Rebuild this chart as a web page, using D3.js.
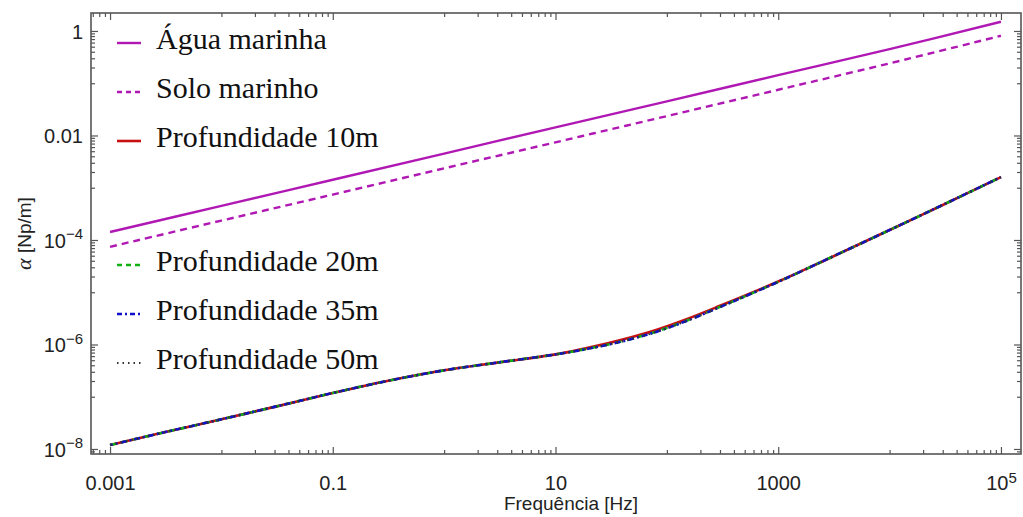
<!DOCTYPE html>
<html>
<head>
<meta charset="utf-8">
<script src="https://cdn.jsdelivr.net/npm/d3@7"></script>
<style>
  body { margin: 0; background: #ffffff; }
  svg { display: block; }
</style>
</head>
<body>
<svg id="chart" width="1023" height="517"></svg>
<script>
// Attenuation in sea water and sea bed (frequency in Hz, alpha in Np/m)
const freqMedium = [1e-3, 1e-2, 1e-1, 1, 10, 100, 1000, 1e4, 1e5];
const aguaMarinha = [1.42e-4, 4.5e-4, 1.42e-3, 4.5e-3, 1.43e-2, 4.5e-2, 0.143, 0.45, 1.5];
const soloMarinho = [7.4e-5, 2.35e-4, 7.4e-4, 2.35e-3, 7.4e-3, 2.35e-2, 7.5e-2, 0.24, 0.81];

// Attenuation at different depths
const freqDepth = [1e-3, 3e-3, 1e-2, 3e-2, 0.1, 0.3, 1, 3, 10, 20, 40, 80, 150, 300, 1000, 3000, 1e4, 3e4, 1e5];
const depth10 = [1.19e-8, 2.06e-8, 3.7e-8, 6.4e-8, 1.18e-7, 1.98e-7, 3.2e-7, 4.5e-7, 6.46e-7, 8.7e-7, 1.245e-6, 1.9e-6, 3.05e-6, 5.5e-6, 1.6e-5, 4.68e-5, 1.55e-4, 4.68e-4, 1.6e-3];
const depth20 = [1.19e-8, 2.06e-8, 3.7e-8, 6.4e-8, 1.18e-7, 1.98e-7, 3.2e-7, 4.5e-7, 6.46e-7, 8.4e-7, 1.16e-6, 1.76e-6, 2.85e-6, 5.25e-6, 1.58e-5, 4.68e-5, 1.55e-4, 4.68e-4, 1.6e-3];
const depth35 = [1.19e-8, 2.06e-8, 3.7e-8, 6.4e-8, 1.18e-7, 1.98e-7, 3.2e-7, 4.5e-7, 6.46e-7, 8.35e-7, 1.15e-6, 1.74e-6, 2.82e-6, 5.2e-6, 1.58e-5, 4.68e-5, 1.55e-4, 4.68e-4, 1.6e-3];
const depth50 = [1.19e-8, 2.06e-8, 3.7e-8, 6.4e-8, 1.18e-7, 1.98e-7, 3.2e-7, 4.5e-7, 6.46e-7, 8.35e-7, 1.15e-6, 1.74e-6, 2.82e-6, 5.2e-6, 1.58e-5, 4.68e-5, 1.55e-4, 4.68e-4, 1.6e-3];

// Labelled ticks
const xTickValues = [1e-3, 1e-1, 1e1, 1e3, 1e5];
const xTickLabels = [["0.001"], ["0.1"], ["10"], ["1000"], ["10", "5"]];
const yTickValues = [1, 1e-2, 1e-4, 1e-6, 1e-8];
const yTickLabels = [["1"], ["0.01"], ["10", "\u22124"], ["10", "\u22126"], ["10", "\u22128"]];

const legendNames = ["\u00c1gua marinha", "Solo marinho", "Profundidade 10m", "Profundidade 20m", "Profundidade 35m", "Profundidade 50m"];

const colors = {
  magenta: "#b018b4",
  red: "#c81010",
  green: "#10b010",
  blue: "#1010c8",
  black: "#333333"
};

const plot = { left: 91, right: 1021, top: 13, bottom: 454 };

const svg = d3.select("#chart");

const x = d3.scaleLog()
  .domain([Math.pow(10, -3.171), Math.pow(10, 5.18)])
  .range([plot.left, plot.right]);
const y = d3.scaleLog()
  .domain([Math.pow(10, -8.096), Math.pow(10, 0.344)])
  .range([plot.bottom, plot.top]);

// minor ticks: 1..9 times the decade below each labelled tick
function minorTicks(majors) {
  const out = [];
  majors.forEach(m => {
    for (let k = 1; k <= 9; k++) out.push(m / 10 * k);
  });
  return out;
}
const xMinor = minorTicks(xTickValues).filter(v => v > x.domain()[0]);
const yMinor = minorTicks(yTickValues).filter(v => v > y.domain()[0]);

const frameColor = "#555555";
const tickFont = "'Liberation Sans', Arial, sans-serif";

function styleAxis(g) {
  g.select(".domain").remove();
  g.selectAll(".tick line").attr("stroke", frameColor).attr("stroke-width", 1.2);
}

// bottom axis (labels + major ticks)
const gxB = svg.append("g").attr("transform", `translate(0,${plot.bottom})`)
  .call(d3.axisBottom(x).tickValues(xTickValues).tickSize(-7).tickPadding(14).tickFormat(() => ""));
styleAxis(gxB);
gxB.selectAll(".tick text").each(function(d, i) {
  const t = d3.select(this).attr("font-family", tickFont).attr("font-size", 20).attr("fill", "#222")
    .attr("y", 22).attr("dy", "0.71em");
  const lab = xTickLabels[i];
  t.append("tspan").text(lab[0]);
  if (lab[1]) t.append("tspan").attr("dy", "-0.5em").attr("font-size", 15).text(lab[1]);
});
svg.append("g").attr("transform", `translate(0,${plot.bottom})`)
  .call(d3.axisBottom(x).tickValues(xMinor).tickSize(-4).tickFormat(() => "")).call(styleAxis);

// top axis mirrored ticks
svg.append("g").attr("transform", `translate(0,${plot.top})`)
  .call(d3.axisTop(x).tickValues(xTickValues).tickSize(-7).tickFormat(() => "")).call(styleAxis);
svg.append("g").attr("transform", `translate(0,${plot.top})`)
  .call(d3.axisTop(x).tickValues(xMinor).tickSize(-4).tickFormat(() => "")).call(styleAxis);

// left axis (labels + major ticks)
const gyL = svg.append("g").attr("transform", `translate(${plot.left},0)`)
  .call(d3.axisLeft(y).tickValues(yTickValues).tickSize(-7).tickPadding(9).tickFormat(() => ""));
styleAxis(gyL);
gyL.selectAll(".tick text").each(function(d, i) {
  const t = d3.select(this).attr("font-family", tickFont).attr("font-size", 20).attr("fill", "#222")
    .attr("x", -8).attr("dy", "0.36em");
  const lab = yTickLabels[i];
  t.append("tspan").text(lab[0]);
  if (lab[1]) t.append("tspan").attr("dy", "-0.55em").attr("font-size", 15).text(lab[1]);
});
svg.append("g").attr("transform", `translate(${plot.left},0)`)
  .call(d3.axisLeft(y).tickValues(yMinor).tickSize(-4).tickFormat(() => "")).call(styleAxis);

// right axis mirrored ticks
svg.append("g").attr("transform", `translate(${plot.right},0)`)
  .call(d3.axisRight(y).tickValues(yTickValues).tickSize(-7).tickFormat(() => "")).call(styleAxis);
svg.append("g").attr("transform", `translate(${plot.right},0)`)
  .call(d3.axisRight(y).tickValues(yMinor).tickSize(-4).tickFormat(() => "")).call(styleAxis);

// frame
svg.append("rect")
  .attr("x", plot.left).attr("y", plot.top)
  .attr("width", plot.right - plot.left).attr("height", plot.bottom - plot.top)
  .attr("fill", "none").attr("stroke", frameColor).attr("stroke-width", 1.6);

// axis titles
svg.append("text")
  .attr("x", 571).attr("y", 510)
  .attr("text-anchor", "middle")
  .attr("font-family", tickFont).attr("font-size", 19).attr("fill", "#222")
  .text("Frequ\u00eancia [Hz]");

const yTitle = svg.append("text")
  .attr("transform", `translate(31,${(plot.top + plot.bottom) / 2}) rotate(-90)`)
  .attr("text-anchor", "middle")
  .attr("font-family", tickFont).attr("font-size", 19).attr("fill", "#222");
yTitle.append("tspan").attr("font-family", "'Liberation Serif', 'Times New Roman', serif")
  .attr("font-style", "italic").attr("font-size", 22).text("\u03b1");
yTitle.append("tspan").text(" [Np/m]");

// curves
const line = d3.line()
  .x(d => x(d[0]))
  .y(d => y(d[1]))
  .curve(d3.curveCatmullRom.alpha(0.5));

function draw(freqs, vals, color, width, dash) {
  const p = svg.append("path")
    .datum(freqs.map((f, i) => [f, vals[i]]))
    .attr("fill", "none")
    .attr("stroke", color)
    .attr("stroke-width", width)
    .attr("stroke-linejoin", "round")
    .attr("d", line);
  if (dash) p.attr("stroke-dasharray", dash);
  return p;
}

draw(freqMedium, aguaMarinha, colors.magenta, 2.4, null);
draw(freqMedium, soloMarinho, colors.magenta, 2.4, "7,5");
draw(freqDepth, depth10, colors.red, 2.6, null);
draw(freqDepth, depth20, colors.green, 2.6, "6,6");
draw(freqDepth, depth35, colors.blue, 2.6, "6,3,2,3").attr("stroke-dashoffset", 3);
draw(freqDepth, depth50, colors.black, 2.2, "1.5,4");

// legend
const legendStyles = [
  { color: colors.magenta, dash: null, w: 2.4 },
  { color: colors.magenta, dash: "5,4", w: 2.4 },
  { color: colors.red, dash: null, w: 2.6 },
  { color: colors.green, dash: "5,4", w: 2.6 },
  { color: colors.blue, dash: "5,3,2,3", w: 2.6 },
  { color: colors.black, dash: "1.5,4", w: 2.2 }
];
const legendBaselines = [49, 98, 147, 271, 320, 369];

const lg = svg.append("g");
legendNames.forEach((name, i) => {
  const by = legendBaselines[i];
  const s = legendStyles[i];
  const l = lg.append("line")
    .attr("x1", 117).attr("x2", 141)
    .attr("y1", by - 6).attr("y2", by - 6)
    .attr("stroke", s.color).attr("stroke-width", s.w);
  if (s.dash) l.attr("stroke-dasharray", s.dash);
  lg.append("text")
    .attr("x", 156).attr("y", by)
    .attr("font-family", "'Liberation Serif', 'Times New Roman', serif")
    .attr("font-size", 30).attr("fill", "#111")
    .text(name);
});
</script>
</body>
</html>
